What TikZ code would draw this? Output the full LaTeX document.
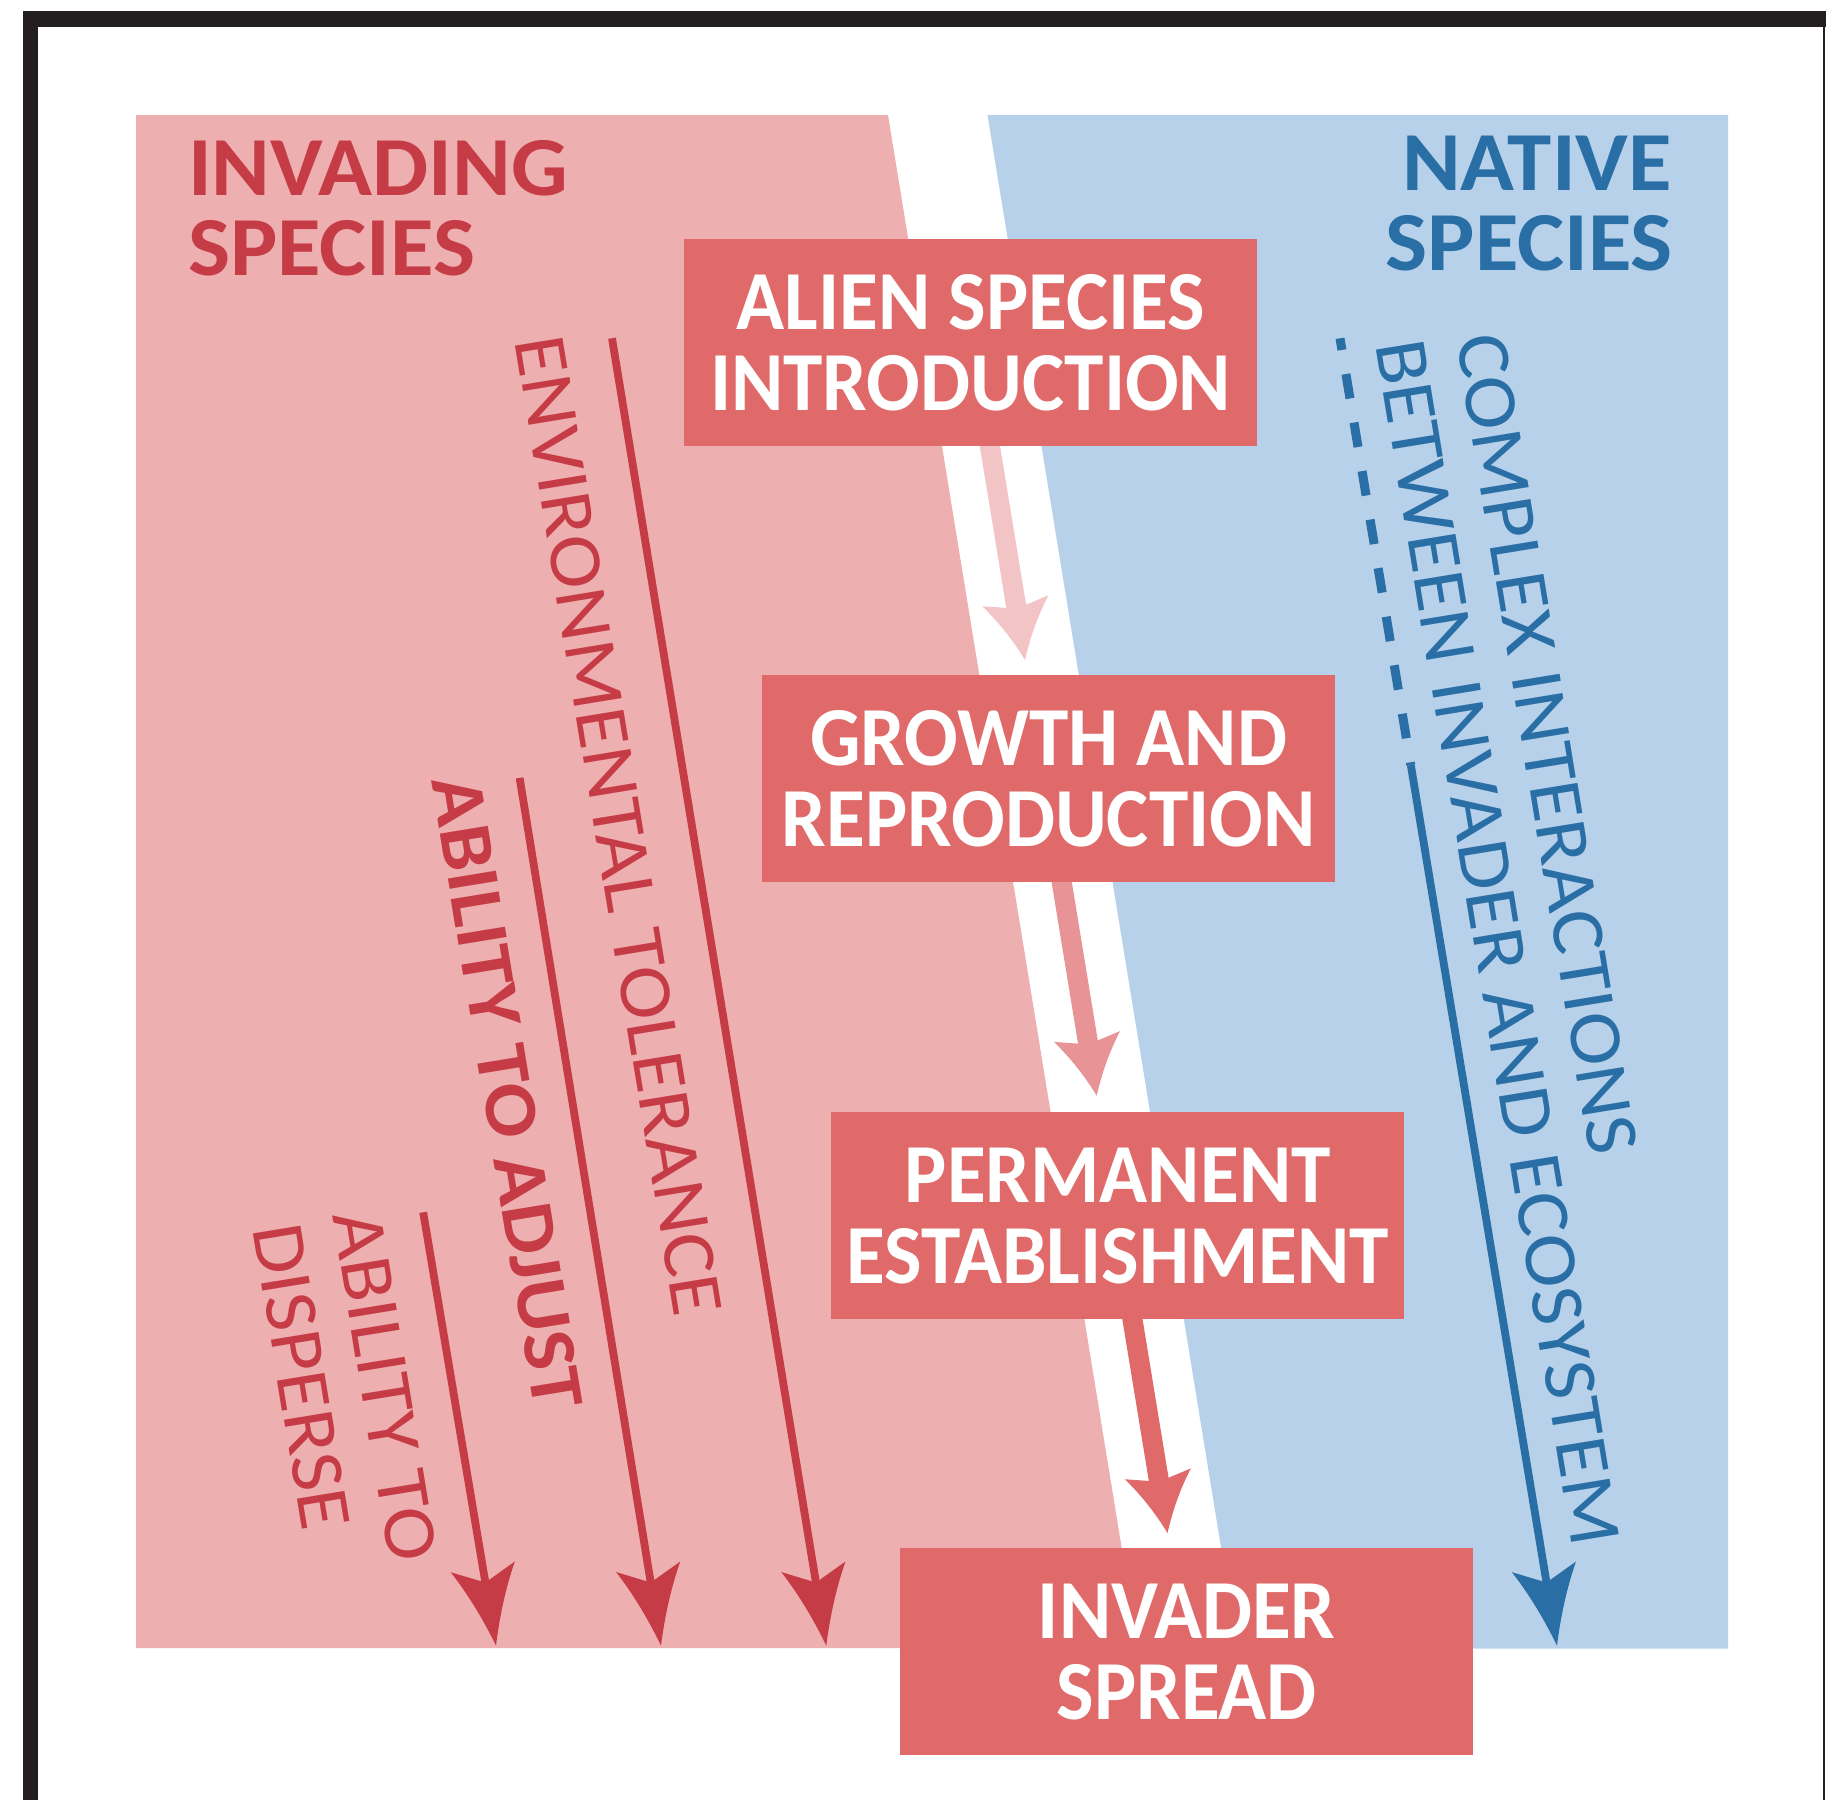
\documentclass[tikz,border=0pt]{standalone}
\usepackage{fontspec}
\setmainfont{Carlito}
\newfontfamily\boxfont{Carlito}[FakeStretch=0.945]
\newfontfamily\headfont{Carlito}[FakeStretch=1.06]
\newfontfamily\sidefont{Carlito}[FakeStretch=1.08]
\usetikzlibrary{arrows.meta}
\newdimen\swooptmp
\pgfdeclarearrow{
  name = Swoop,
  parameters = {\the\pgfarrowlength,\the\pgfarrowwidth,\the\pgfarrowinset},
  setup code = {
    \pgfarrowssettipend{0pt}
    \pgfarrowssetbackend{-\pgfarrowlength}
    \swooptmp=-\pgfarrowlength
    \advance\swooptmp by \pgfarrowinset
    \advance\swooptmp by 1pt
    \pgfarrowssetlineend{\swooptmp}
    \pgfarrowshullpoint{0pt}{0pt}
    \pgfarrowsupperhullpoint{-\pgfarrowlength}{.5\pgfarrowwidth}
    \pgfarrowssavethe\pgfarrowlength
    \pgfarrowssavethe\pgfarrowwidth
    \pgfarrowssavethe\pgfarrowinset
  },
  drawing code = {
    \pgfpathmoveto{\pgfqpoint{0pt}{0pt}}
    \pgfpathcurveto{\pgfqpoint{-.33\pgfarrowlength}{.12\pgfarrowwidth}}{\pgfqpoint{-.67\pgfarrowlength}{.28\pgfarrowwidth}}{\pgfqpoint{-\pgfarrowlength}{.5\pgfarrowwidth}}
    \swooptmp=-\pgfarrowlength
    \advance\swooptmp by \pgfarrowinset
    \pgfpathlineto{\pgfqpoint{\swooptmp}{0pt}}
    \pgfpathlineto{\pgfqpoint{-\pgfarrowlength}{-.5\pgfarrowwidth}}
    \pgfpathcurveto{\pgfqpoint{-.67\pgfarrowlength}{-.28\pgfarrowwidth}}{\pgfqpoint{-.33\pgfarrowlength}{-.12\pgfarrowwidth}}{\pgfqpoint{0pt}{0pt}}
    \pgfpathclose
    \pgfusepathqfill
  },
  defaults = {length=60pt, width=67pt, inset=8pt}
}
\definecolor{framec}{HTML}{231F20}
\definecolor{pinkbg}{HTML}{EEAFB0}
\definecolor{bluebg}{HTML}{B7D1EA}
\definecolor{boxc}{HTML}{E06A6A}
\definecolor{redc}{HTML}{C63C46}
\definecolor{bluec}{HTML}{2A6EA6}
\definecolor{arrA}{HTML}{F2C4C6}
\definecolor{arrB}{HTML}{E89496}
\tikzset{
  stagebox/.style={fill=boxc, text=white, font=\boxfont\bfseries\fontsize{84}{81}\selectfont,
    align=center, minimum width=573pt, minimum height=206.7pt, inner sep=0pt, anchor=north west},
  flowarrow/.style={line width=20pt, -{Swoop[length=60pt,width=67pt,inset=8pt]}},
  longarrow/.style={line width=7.8pt, -{Swoop[length=80pt,width=65pt,inset=16pt]}},
  header/.style={font=\headfont\bfseries\fontsize{84}{81}\selectfont, inner sep=0pt},
  sidetext/.style={font=\sidefont\fontsize{75}{80}\selectfont, inner sep=0pt, anchor=base west, rotate=-80.69},
  sidebold/.style={font=\sidefont\bfseries\fontsize{75}{80}\selectfont, inner sep=0pt, anchor=base west, rotate=-80.69}
}
\begin{document}
\begin{tikzpicture}[x=1pt,y=-1pt]
\useasboundingbox (0,0) rectangle (1826,1800);
% frame
\fill[framec] (23,11) rectangle (1826,27);
\fill[framec] (23,11) rectangle (38,1800);
\fill[framec] (1822.5,27) rectangle (1825,1800);
% background regions
\fill[pinkbg] (136,115) -- (888,115) -- (1138,1648) -- (136,1648) -- cycle;
\fill[bluebg] (987.5,115) -- (1728,115) -- (1728,1648.5) -- (1237.5,1648.5) -- cycle;
% flow arrows between stages
\coordinate (a1s) at (988.9,440);   \coordinate (a1e) at (1025,660);
\coordinate (a2s) at (1060.7,876);  \coordinate (a2e) at (1096.7,1095.7);
\coordinate (a3s) at (1131.4,1313); \coordinate (a3e) at (1167.5,1533);
\draw[flowarrow, arrA] (a1s) -- (a1e);
\draw[flowarrow, arrB] (a2s) -- (a2e);
\draw[flowarrow, boxc] (a3s) -- (a3e);
% long arrows on the left
\coordinate (tols) at (612,338.2);   \coordinate (tole) at (826.3,1645.7);
\coordinate (adjs) at (519.6,777.9); \coordinate (adje) at (661,1645.7);
\coordinate (diss) at (423.2,1212.3);\coordinate (dise) at (496,1645.7);
\draw[longarrow, redc] (tols) -- (tole);
\draw[longarrow, redc] (adjs) -- (adje);
\draw[longarrow, redc] (diss) -- (dise);
% blue arrow
\coordinate (bls) at (1340,338.3); \coordinate (blm) at (1410.8,765); \coordinate (ble) at (1557,1645.7);
\draw[bluec, line width=9pt, dash pattern=on 24.8pt off 24.4pt, dash phase=13pt] (bls) -- (blm);
\draw[longarrow, bluec] (blm) -- (ble);
% headers
\node[header, anchor=base west, text=redc] (inv1) at (188,195) {INVADING};
\node[header, anchor=base west, text=redc] (inv2) at (188,275) {SPECIES};
\node[header, anchor=base east, text=bluec] (nat1) at (1672,190) {NATIVE};
\node[header, anchor=base east, text=bluec] (nat2) at (1673,270) {SPECIES};
% side labels
\node[sidetext, text=redc] (tolt) at (514.7,340.5) {ENVIRONMENTAL TOLERANCE};
\node[sidebold, text=redc] (adjt) at (431.8,780.4) {ABILITY TO ADJUST};
\node[sidetext, text=redc] (dist1) at (332.6,1215) {ABILITY TO};
\node[sidetext, text=redc] (dist2) at (252.8,1228.4) {DISPERSE};
\node[sidetext, text=bluec] (cplx1) at (1456,338.5) {COMPLEX INTERACTIONS};
\node[sidetext, text=bluec] (cplx2) at (1375.6,344) {BETWEEN INVADER AND ECOSYSTEM};
% stage boxes
\node[stagebox] (b1) at (684,239) {ALIEN SPECIES\\INTRODUCTION};
\node[stagebox] (b2) at (762,675) {GROWTH AND\\REPRODUCTION};
\node[stagebox] (b3) at (831,1112) {PERMANENT\\ESTABLISHMENT};
\node[stagebox] (b4) at (900,1548) {INVADER\\SPREAD};
\end{tikzpicture}
\end{document}
